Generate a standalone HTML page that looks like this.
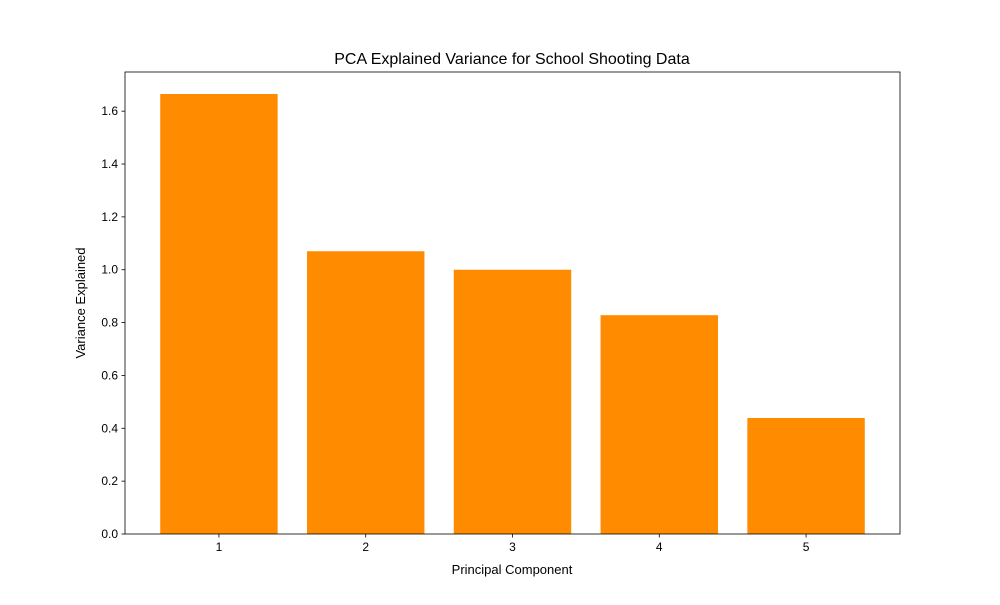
<!DOCTYPE html>
<html><head><meta charset="utf-8"><style>body{margin:0;background:#fff}svg text{font-family:"Liberation Sans","DejaVu Sans",sans-serif;fill:#000}</style></head>
<body>
<svg id="chart" width="1000" height="600" xmlns="http://www.w3.org/2000/svg">
<rect width="1000" height="600" fill="#fff"/>
<g id="plot"></g>
<text x="512" y="64" font-size="16" text-anchor="middle">PCA Explained Variance for School Shooting Data</text>
<text x="512" y="574" font-size="13" text-anchor="middle">Principal Component</text>
<text transform="translate(85,303) rotate(-90)" font-size="13" text-anchor="middle">Variance Explained</text>
</svg>
<script>
const categories = [1, 2, 3, 4, 5];
const variances = [1.665, 1.07, 1.0, 0.828, 0.439];
const yTicks = [0, 0.2, 0.4, 0.6, 0.8, 1.0, 1.2, 1.4, 1.6];
const yTickLabels = ["0.0","0.2","0.4","0.6","0.8","1.0","1.2","1.4","1.6"];

const L=125,R=900,T=72,B=534;
const yMax = Math.max(...variances)*1.05;
const xMin = 0.36, xMax = categories.length + 0.64;
const x = v => L + (v - xMin)/(xMax - xMin)*(R-L);
const y = v => B - v/yMax*(B-T);
const ns="http://www.w3.org/2000/svg";
const g=document.getElementById('plot');
function mk(tag,attrs){const e=document.createElementNS(ns,tag);for(const k in attrs)e.setAttribute(k,attrs[k]);g.appendChild(e);return e;}
categories.forEach((c,i)=>{
  const b=mk('rect',{x:x(c-0.4),y:y(variances[i]),width:x(c+0.4)-x(c-0.4),height:B-y(variances[i]),fill:'#ff8c00'});
  
  
  const t=mk('line',{x1:x(c),x2:x(c),y1:B,y2:B+3.5,stroke:'#000','stroke-width':0.8});
  
  
  const l=mk('text',{x:x(c),y:B+17,'font-size':12,'text-anchor':'middle'});
  l.textContent=c;
  
  
});
yTicks.forEach((v,i)=>{
  const t=mk('line',{x1:L-3.5,x2:L,y1:y(v),y2:y(v),stroke:'#000','stroke-width':0.8});
  
  
  const l=mk('text',{x:L-7,y:y(v)+4,'font-size':12,'text-anchor':'end'});
  l.textContent=yTickLabels[i];
  
  
});
const f=mk('rect',{x:L,y:T,width:R-L,height:B-T,fill:'none',stroke:'#000','stroke-width':0.8});


</script>
</body></html>
